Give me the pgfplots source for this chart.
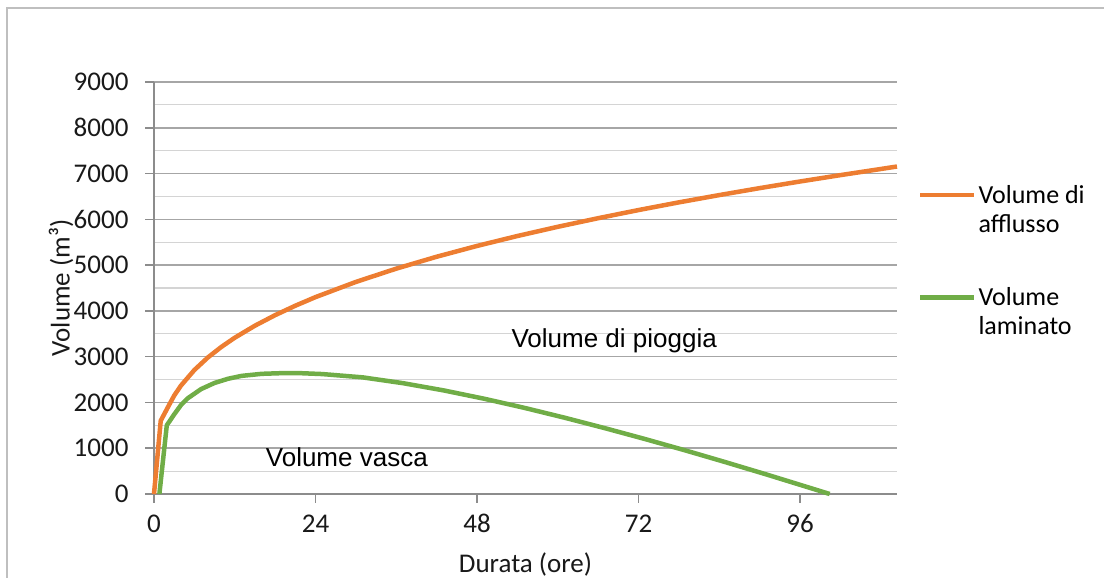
\documentclass[border=0pt]{standalone}
\usepackage{pgfplots}
\pgfplotsset{compat=1.18}
\usepackage{fontspec}
\setmainfont{Carlito}
\newfontfamily\arialfont{Liberation Sans}
\definecolor{cOrange}{HTML}{ED7D31}
\definecolor{cGreen}{HTML}{70AD47}
\definecolor{gridmaj}{HTML}{A6A6A6}
\definecolor{gridmin}{HTML}{D4D4D4}
\definecolor{axgray}{HTML}{8C8C8C}
\definecolor{bordergray}{HTML}{BFBFBF}
\begin{document}
\begin{tikzpicture}
\useasboundingbox (0pt,0pt) rectangle (1104pt,578pt);
\draw[bordergray, line width=1.5pt] (7pt,0pt) -- (7pt,570pt) -- (1104pt,570pt);
\begin{axis}[
  at={(154pt,84pt)}, anchor=south west,
  scale only axis, width=743pt, height=412pt,
  xmin=0, xmax=110.4, ymin=0, ymax=9000,
  axis x line*=bottom, axis y line*=left,
  axis line style={axgray, line width=1.5pt},
  xtick={0,24,48,72,96},
  ytick={0,1000,...,9000},
  minor ytick={500,1500,...,8500},
  ymajorgrids, yminorgrids,
  major grid style={gridmaj, line width=1.5pt},
  minor grid style={gridmin, line width=1.2pt},
  tick align=outside,
  major tick length=9pt, minor tick length=0pt,
  tick style={axgray, line width=1.5pt},
  /pgf/number format/assume math mode=true,
  /pgf/number format/1000 sep={},
  ticklabel style={font=\fontsize{27}{31}\selectfont, text=black!90},
  yticklabel style={xshift=-13pt},
  xticklabel style={yshift=-8pt},
  xlabel={Durata (ore)}, ylabel={Volume (m³)},
  label style={font=\fontsize{27}{31}\selectfont, text=black!90},
  xlabel style={at={(axis description cs:0.5,-0.17)}, anchor=center},
  ylabel style={yshift=-6.5pt},
  legend style={at={(axis description cs:1.028,0.755)}, anchor=north west, draw=none, fill=none,
    font=\fontsize{26}{29}\selectfont, cells={align=left, anchor=west}, row sep=50pt,
    inner sep=0pt},
  legend image code/.code={\draw[#1, line width=4.5pt] (0pt,14.5pt) -- (54pt,14.5pt);},
  clip=false,
]
\addplot[cOrange, line width=4.5pt, line join=round] coordinates {
(0,0) (1,1600) (2,1878) (3,2150) (4,2367) (6,2709) (8,2982) (10,3212) (12,3414)
(15,3677) (18,3907) (21,4113) (24,4301) (30,4633) (36,4923) (42,5183) (48,5419)
(54,5636) (60,5837) (66,6025) (72,6203) (78,6371) (84,6530) (90,6682) (96,6827)
(102,6966) (108,7100) (110.4,7154)
};
\addlegendentry{Volume di\\afflusso}
\addplot[cGreen, line width=4.5pt, line join=round] coordinates {
(0.8,0) (1.9,1500) (3,1739) (4,1941) (5,2089) (7,2292) (9,2426) (11,2517) (13,2580)
(16,2625) (19,2640) (22,2638) (25,2620) (31,2548) (37,2421) (43,2264) (49,2083)
(55,1883) (61,1667) (67,1438) (73,1199) (79,950) (85,692) (91,427) (97,155) (100.4,0)
};
\addlegendentry{Volume\\laminato}
\node[anchor=base west, font=\arialfont\fontsize{26}{30}\selectfont] at (axis cs:16.1,590) {Volume vasca};
\node[anchor=base west, font=\arialfont\fontsize{26}{30}\selectfont] at (axis cs:52.6,3211) {Volume di pioggia};
\end{axis}
\end{tikzpicture}
\end{document}
